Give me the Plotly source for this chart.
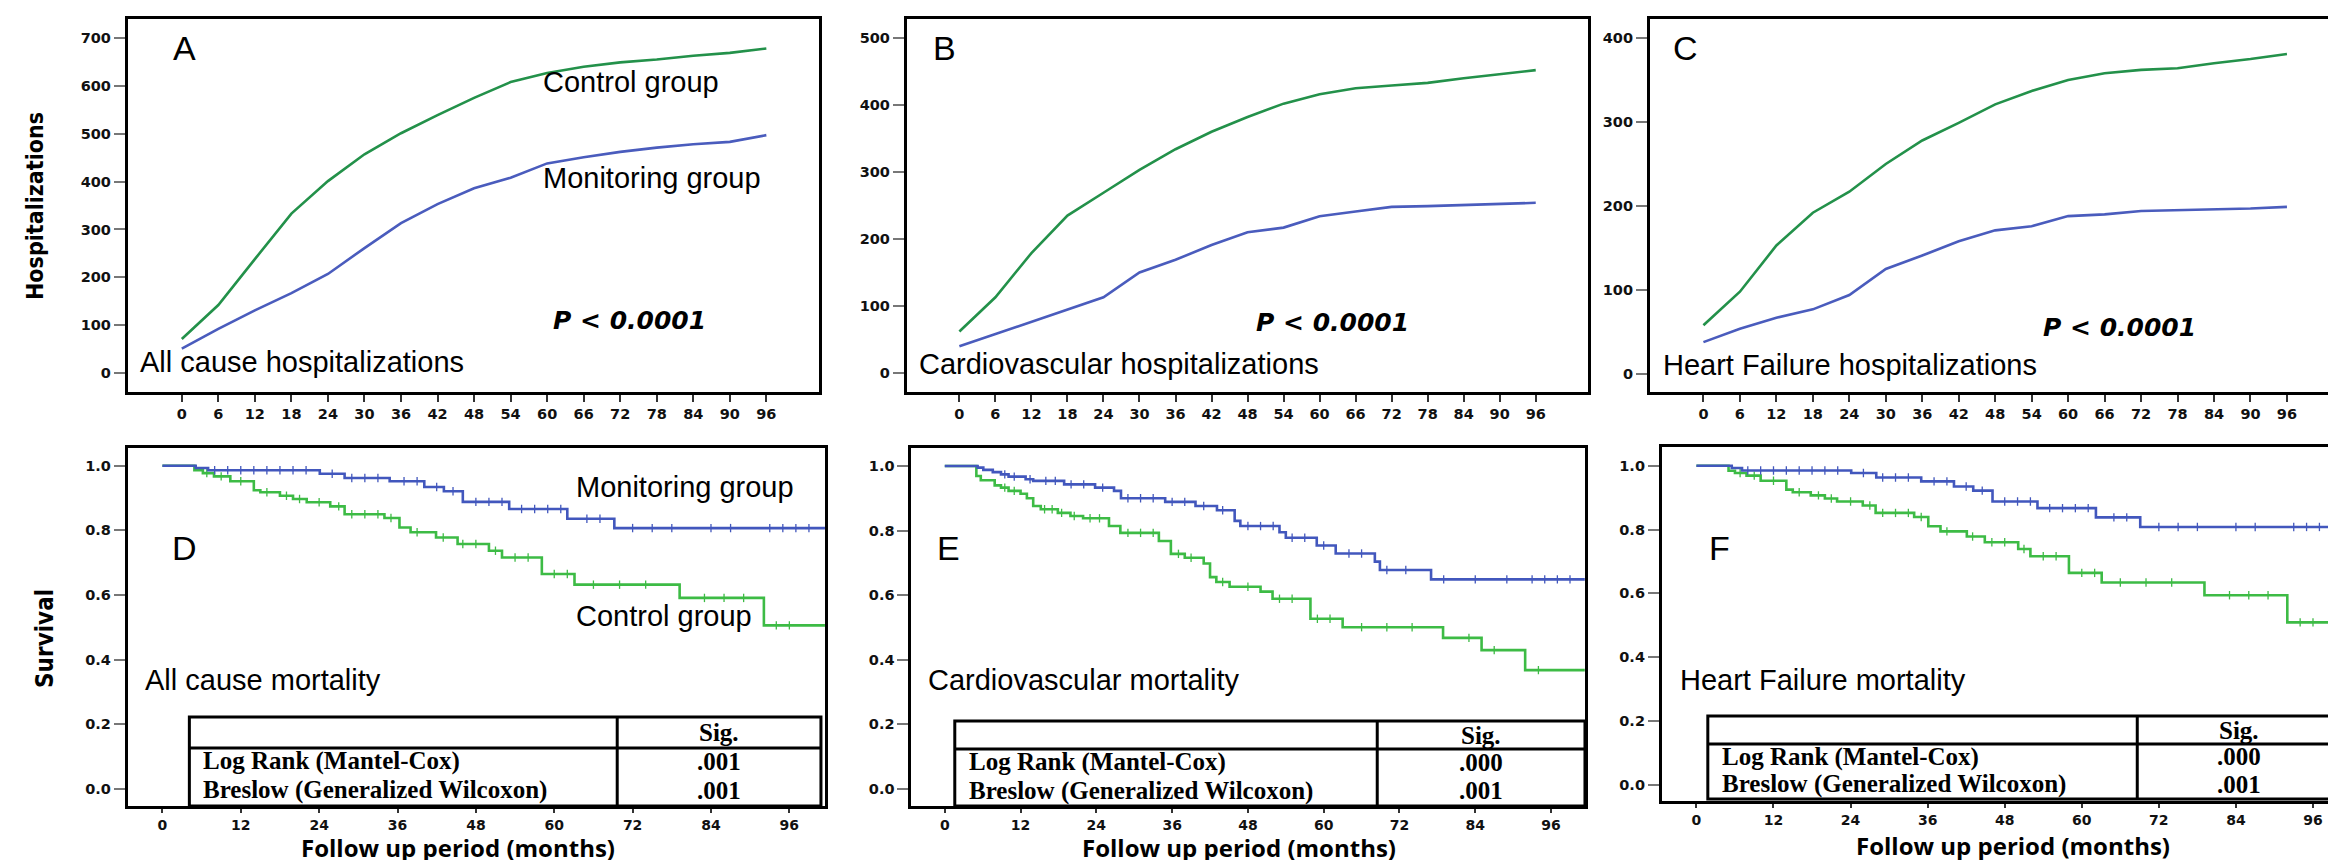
import plotly.graph_objects as go

W, H = 2336, 860

# ---------------- data: hospitalizations (cumulative) ----------------
months_h = [0, 6, 12, 18, 24, 30, 36, 42, 48, 54, 60, 66, 72, 78, 84, 90, 96]
A_control = [71, 142, 238, 333, 401, 457, 501, 539, 575, 608, 627, 640, 649, 655, 663, 669, 678]
A_monitor = [51, 92, 131, 167, 207, 261, 313, 353, 386, 408, 438, 451, 462, 471, 478, 483, 497]
B_control = [62, 113, 179, 235, 269, 303, 334, 360, 382, 402, 416, 425, 429, 433, 440, 446, 452]
B_monitor = [40, 58, 77, 95, 113, 150, 169, 191, 210, 217, 234, 241, 248, 249, 251, 252, 254]
C_control = [58, 98, 153, 192, 217, 250, 278, 299, 321, 337, 350, 358, 362, 364, 370, 375, 381]
C_monitor = [38, 54, 67, 77, 94, 125, 141, 158, 171, 176, 188, 190, 194, 195, 196, 197, 199]

# ---------------- data: Kaplan-Meier survival ----------------
D_mon_t = [0, 5.1, 7.0, 24.1, 27.9, 34.8, 40.1, 43.1, 46.0, 53.1, 62.0, 69.2, 101.5]
D_mon_s = [1, 0.993, 0.986, 0.975, 0.962, 0.952, 0.934, 0.921, 0.888, 0.866, 0.836, 0.807, 0.807]
D_con_t = [0, 4.9, 6.2, 7.9, 10.4, 14, 15, 18, 20, 22.1, 25.7, 27.9, 34, 36.3, 38, 41.9, 45.2, 50, 52, 58.1, 63.1, 79.2, 92.1, 101.5]
D_con_s = [1, 0.986, 0.977, 0.967, 0.952, 0.924, 0.918, 0.907, 0.897, 0.887, 0.874, 0.85, 0.838, 0.809, 0.794, 0.778, 0.758, 0.737, 0.716, 0.665, 0.632, 0.591, 0.506, 0.506]
E_mon_t = [0, 5.2, 6.1, 7.6, 8.9, 10.1, 12.8, 14, 18.9, 23.8, 26.8, 27.9, 34.9, 39.7, 43.1, 45.9, 46.8, 53, 54, 58.9, 61.9, 68.1, 68.9, 77, 101.4]
E_mon_s = [1, 0.995, 0.988, 0.981, 0.974, 0.967, 0.959, 0.954, 0.943, 0.933, 0.923, 0.9, 0.889, 0.876, 0.863, 0.83, 0.814, 0.795, 0.778, 0.754, 0.729, 0.704, 0.678, 0.649, 0.649]
E_con_t = [0, 5, 5.7, 7.9, 8.9, 10.1, 12, 13, 14, 15.2, 17.9, 19.9, 21.9, 26, 27.8, 33.9, 35.8, 38, 41, 42, 43, 45.1, 50, 51.9, 57.9, 63, 78.9, 85, 91.9, 101.4]
E_con_s = [1, 0.969, 0.956, 0.94, 0.933, 0.923, 0.914, 0.9, 0.876, 0.866, 0.855, 0.845, 0.838, 0.814, 0.793, 0.768, 0.728, 0.716, 0.698, 0.656, 0.641, 0.626, 0.611, 0.589, 0.527, 0.501, 0.468, 0.43, 0.368, 0.368]
F_mon_t = [0, 5.5, 7.1, 24.1, 28, 35, 40.1, 43.1, 46.1, 53.1, 62.2, 69.1, 100.5]
F_mon_s = [1, 0.993, 0.985, 0.977, 0.963, 0.951, 0.935, 0.922, 0.888, 0.867, 0.838, 0.808, 0.808]
F_con_t = [0, 5, 6, 7.8, 10, 14, 15, 17.8, 20, 21.9, 25.9, 27.9, 33.9, 36.1, 38, 42.1, 44.9, 50.1, 52, 58, 63.1, 79.1, 92, 100.5]
F_con_s = [1, 0.984, 0.977, 0.969, 0.953, 0.925, 0.917, 0.907, 0.897, 0.888, 0.875, 0.852, 0.839, 0.81, 0.794, 0.778, 0.76, 0.739, 0.716, 0.664, 0.634, 0.594, 0.509, 0.509]

# censoring times (tick marks on curves)
D_mon_c = [8, 10, 12, 14, 16, 18, 20, 22, 26, 29, 31, 33, 37, 39, 42, 44.5, 48, 50, 52, 55, 57, 59, 61, 65, 67, 72, 75, 78, 84, 87, 93, 95, 97, 99]
D_con_c = [6.8, 9, 12, 16, 19, 21, 24, 27, 29, 31, 33, 35, 39, 43, 46, 48, 51, 54, 56, 60, 62, 66, 70, 74, 83, 86, 89, 94, 96]
E_mon_c = [9.5, 11, 13.5, 16, 17.5, 20, 22, 25, 29, 31, 33, 36, 38, 41, 44, 48, 50, 52, 55, 57, 60, 64, 66, 70, 73, 79, 84, 89, 93, 95, 97, 99]
E_con_c = [9.5, 11, 15.8, 17, 18.5, 20.5, 23, 24.5, 29, 31, 33, 37, 39, 44, 48, 53, 55, 59, 61, 66, 70, 74, 83, 87, 94]
F_mon_c = [8, 10, 12, 14, 16, 18, 20, 22, 26, 29, 31, 33, 37, 39, 42, 44.5, 48, 50, 52, 55, 57, 59, 61, 65, 67, 72, 75, 78, 84, 87, 93, 95, 97, 99]
F_con_c = [6.8, 9, 12, 16, 19, 21, 24, 27, 29, 31, 33, 35, 39, 43, 46, 48, 51, 54, 56, 60, 62, 66, 70, 74, 83, 86, 89, 94, 96]

# table values
tests = ["Log Rank (Mantel-Cox)", "Breslow (Generalized Wilcoxon)"]
D_sig = [".001", ".001"]
E_sig = [".000", ".001"]
F_sig = [".000", ".001"]

# ---------------- styling ----------------
G_H = "#23914a"
B_H = "#4a5cbd"
G_K = "#3dbb45"
B_K = "#4257bd"
TXT = "Liberation Sans, Arial, sans-serif"
TICK = dict(family="DejaVu Sans, Verdana, sans-serif", size=14.5, color="#111", weight="bold")
TICK_KM = dict(family="DejaVu Sans, Verdana, sans-serif", size=14, color="#111", weight="bold")
DY = -7  # vertical nudge for annotation text


def px(x):
    return min(max(x / W, 0), 1)


def py(y):
    return min(max(1 - y / H, 0), 1)


def ppx(x):
    return x / W


fig = go.Figure()


def add_axes(n, xdom, ydom, xr, yr, xt, yt, ytext=None, xticklen=7, tf=TICK):
    sx = "" if n == 1 else str(n)
    fig.update_layout(**{
        "xaxis" + sx: dict(domain=[px(xdom[0]), px(xdom[1])], range=xr, anchor="y" + sx,
                           tickvals=xt, ticks="outside", ticklen=xticklen, tickwidth=1.5,
                           tickcolor="#333", showline=True, linewidth=3, linecolor="black",
                           mirror=True, showgrid=False, zeroline=False, tickfont=tf,
                           fixedrange=True),
        "yaxis" + sx: dict(domain=[py(ydom[1]), py(ydom[0])], range=yr, anchor="x" + sx,
                           tickvals=yt, ticktext=ytext, ticks="outside", ticklen=11, tickwidth=1.5,
                           tickcolor="#777", showline=True, linewidth=3, linecolor="black",
                           mirror=True, showgrid=False, zeroline=False, tickfont=TICK,
                           fixedrange=True),
    })


# hospitalization panels
add_axes(1, (120, 812), (11, 384), [-8.86, 104.64], [-39.7, 739.7], months_h, list(range(0, 701, 100)))
add_axes(2, (900, 1582), (11, 384), [-8.75, 104.7], [-28.3, 528.3], months_h, list(range(0, 501, 100)))
add_axes(3, (1644, 2333), (11, 384), [-8.81, 104.4], [-21.4, 422.6], months_h, list(range(0, 401, 100)))
km_y = [0, 0.2, 0.4, 0.6, 0.8, 1.0]
km_yt = ["0.0", "0.2", "0.4", "0.6", "0.8", "1.0"]
km_x = list(range(0, 97, 12))
add_axes(4, (120, 818), (440, 798), [-5.29, 101.45], [-0.0526, 1.0547], km_x, km_y, km_yt, xticklen=4, tf=TICK_KM)
add_axes(5, (904.6, 1578.8), (440, 798), [-5.28, 101.34], [-0.0526, 1.0557], km_x, km_y, km_yt, xticklen=4, tf=TICK_KM)
add_axes(6, (1656, 2336), (439, 793), [-5.38, 100.36], [-0.051, 1.0586], km_x, km_y, km_yt, xticklen=4, tf=TICK_KM)

hosp = [(1, A_control, A_monitor), (2, B_control, B_monitor), (3, C_control, C_monitor)]
for n, ctrl, mon in hosp:
    sx = "" if n == 1 else str(n)
    fig.add_trace(go.Scatter(x=months_h, y=ctrl, mode="lines", line=dict(color=G_H, width=2.6),
                             xaxis="x" + sx, yaxis="y" + sx, showlegend=False))
    fig.add_trace(go.Scatter(x=months_h, y=mon, mode="lines", line=dict(color=B_H, width=2.6),
                             xaxis="x" + sx, yaxis="y" + sx, showlegend=False))


def surv_at(ts, ss, t):
    v = ss[0]
    for ti, si in zip(ts, ss):
        if ti <= t:
            v = si
    return v


km = [(4, D_mon_t, D_mon_s, D_mon_c, D_con_t, D_con_s, D_con_c),
      (5, E_mon_t, E_mon_s, E_mon_c, E_con_t, E_con_s, E_con_c),
      (6, F_mon_t, F_mon_s, F_mon_c, F_con_t, F_con_s, F_con_c)]
for n, mt, ms, mc, ct, cs, cc in km:
    sx = str(n)
    for ts, ss, cens, col in ((ct, cs, cc, G_K), (mt, ms, mc, B_K)):
        fig.add_trace(go.Scatter(x=ts, y=ss, mode="lines", line=dict(color=col, width=2.6, shape="hv"),
                                 xaxis="x" + sx, yaxis="y" + sx, showlegend=False))
        fig.add_trace(go.Scatter(x=cens, y=[surv_at(ts, ss, t) for t in cens], mode="markers",
                                 marker=dict(symbol="line-ns-open", size=6, color=col,
                                             line=dict(color=col, width=1.3)),
                                 xaxis="x" + sx, yaxis="y" + sx, showlegend=False))

ann = []


def txt(x, y, s, size=29, xanchor="left", family=TXT, weight="normal", style="normal", angle=0, color="black", dy=DY):
    ann.append(dict(x=ppx(x), y=1 - (y + dy) / H, xref="paper", yref="paper", text=s, showarrow=False,
                    xanchor=xanchor, yanchor="middle", textangle=angle,
                    font=dict(family=family, size=size, color=color, weight=weight, style=style)))


# panel letters
for lx, ly, s in ((177, 47, "A"), (938, 47, "B"), (1680, 47, "C"), (177, 547, "D"), (942, 547, "E"), (1714, 547, "F")):
    txt(lx, ly, s, size=34, xanchor="center")

# group labels
txt(534, 81, "Control group")
txt(534, 177, "Monitoring group")
txt(567, 486, "Monitoring group")
txt(567, 615, "Control group")

# panel descriptions
txt(130, 361, "All cause hospitalizations")
txt(910, 363, "Cardiovascular hospitalizations")
txt(1655, 364, "Heart Failure hospitalizations")
txt(135, 679, "All cause mortality")
txt(919, 679, "Cardiovascular mortality")
txt(1672, 679, "Heart Failure mortality")

# p-values
PF = "DejaVu Sans, Verdana, sans-serif"
txt(544, 320, "P < 0.0001", size=25, family=PF, weight="bold", style="italic")
txt(1248, 321, "P < 0.0001", size=25, family=PF, weight="bold", style="italic")
txt(2036, 326, "P < 0.0001", size=25, family=PF, weight="bold", style="italic")

# axis titles
NF = "DejaVu Sans Condensed, DejaVu Sans, sans-serif"
txt(27, 198, "Hospitalizations", size=23, xanchor="center", family=NF, weight="bold", angle=-90, dy=0)
txt(37, 630, "Survival", size=24, xanchor="center", family=NF, weight="bold", angle=-90, dy=0)
XF = "Open Sans, DejaVu Sans, sans-serif"
txt(451, 839, "Follow up period (months)", size=24, xanchor="center", family=XF, weight="bold", dy=0)
txt(1233, 839, "Follow up period (months)", size=24, xanchor="center", family=XF, weight="bold", dy=0)
txt(2008, 837, "Follow up period (months)", size=24, xanchor="center", family=XF, weight="bold", dy=0)

# statistics tables
shapes = []
SF = "Liberation Serif, Times New Roman, serif"
tables = [((181.6, 709, 814, 798, 740, 610), D_sig),
          ((948, 713, 1579, 798, 741, 1371), E_sig),
          ((1702, 708, 2345, 791, 736, 2132), F_sig)]
for (x0, y0, x1, y1, yh, xd), sig in tables:
    shapes.append(dict(type="rect", xref="paper", yref="paper", x0=ppx(x0), x1=ppx(x1), y0=1 - y1 / H, y1=1 - y0 / H,
                       fillcolor="white", line=dict(color="black", width=3), layer="above"))
    shapes.append(dict(type="line", xref="paper", yref="paper", x0=ppx(x0), x1=ppx(x1), y0=1 - yh / H, y1=1 - yh / H,
                       line=dict(color="black", width=3), layer="above"))
    shapes.append(dict(type="line", xref="paper", yref="paper", x0=ppx(xd), x1=ppx(xd), y0=1 - y1 / H, y1=1 - y0 / H,
                       line=dict(color="black", width=3), layer="above"))
    cx = (xd + min(x1, 2336)) / 2
    txt(cx, (y0 + yh) / 2 + 4, "Sig.", size=25, xanchor="center", family=SF, weight="bold", dy=-4)
    r1 = yh + (y1 - yh) * 0.3
    r2 = yh + (y1 - yh) * 0.8
    for ry, name, val in ((r1, tests[0], sig[0]), (r2, tests[1], sig[1])):
        txt(x0 + 12, ry, name, size=25, family=SF, weight="bold", dy=-4)
        txt(cx, ry, val, size=25, xanchor="center", family=SF, weight="bold", dy=-4)

fig.update_layout(width=W, height=H, margin=dict(l=0, r=0, t=0, b=0),
                  paper_bgcolor="white", plot_bgcolor="white",
                  annotations=ann, shapes=shapes, showlegend=False)

fig.write_html("out.html", config={"displayModeBar": False})
